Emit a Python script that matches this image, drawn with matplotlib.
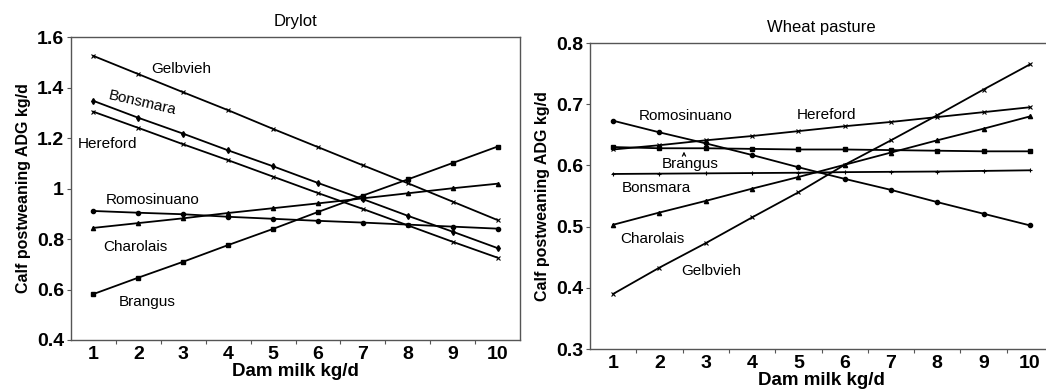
import matplotlib
matplotlib.use("Agg")
import matplotlib.pyplot as plt
from matplotlib.ticker import FormatStrFormatter

plt.rcParams['font.family'] = ['Liberation Sans', 'DejaVu Sans']

milk = [1, 2, 3, 4, 5, 6, 7, 8, 9, 10]

# Drylot
dry_gelbvieh = [1.525, 1.453, 1.381, 1.310, 1.236, 1.164, 1.092, 1.021, 0.948, 0.875]
dry_bonsmara = [1.347, 1.280, 1.217, 1.151, 1.088, 1.022, 0.958, 0.892, 0.829, 0.764]
dry_hereford = [1.304, 1.240, 1.175, 1.112, 1.047, 0.982, 0.919, 0.854, 0.789, 0.726]
dry_romosinuano = [0.911, 0.904, 0.898, 0.888, 0.880, 0.872, 0.865, 0.857, 0.849, 0.841]
dry_charolais = [0.844, 0.863, 0.882, 0.903, 0.922, 0.941, 0.961, 0.981, 1.001, 1.019]
dry_brangus = [0.582, 0.647, 0.710, 0.776, 0.840, 0.907, 0.972, 1.036, 1.101, 1.166]

# Wheat pasture
wp_gelbvieh = [0.390, 0.433, 0.473, 0.515, 0.556, 0.601, 0.641, 0.682, 0.724, 0.765]
wp_hereford = [0.626, 0.633, 0.641, 0.648, 0.656, 0.664, 0.671, 0.679, 0.687, 0.695]
wp_romosinuano = [0.673, 0.654, 0.636, 0.617, 0.597, 0.578, 0.560, 0.540, 0.521, 0.502]
wp_brangus = [0.630, 0.628, 0.628, 0.627, 0.626, 0.626, 0.625, 0.624, 0.623, 0.623]
wp_bonsmara = [0.586, 0.5865, 0.587, 0.5875, 0.588, 0.589, 0.5895, 0.590, 0.591, 0.592]
wp_charolais = [0.503, 0.523, 0.542, 0.562, 0.581, 0.601, 0.621, 0.641, 0.660, 0.680]

W, H = 1046, 391
fig = plt.figure(figsize=(W / 100, H / 100), dpi=100)

def px_axes(x0, x1, ytop, ybot):
    return fig.add_axes([x0 / W, (H - ybot) / H, (x1 - x0) / W, (ybot - ytop) / H])

ax1 = px_axes(71, 520, 37, 340)
ax2 = px_axes(590, 1053, 43, 349)

lw = 1.3
ms = 3

def style(ax, ylim, yticks):
    ax.set_xlim(0.5, 10.5)
    ax.set_ylim(*ylim)
    ax.set_yticks(yticks)
    ax.yaxis.set_major_formatter(FormatStrFormatter('%g'))
    ax.set_xticks(milk)
    ax.set_xticks([i + 0.5 for i in milk[:-1]], minor=True)
    ax.tick_params(axis='x', which='major', length=0, pad=4)
    ax.tick_params(axis='x', which='minor', length=3, width=0.8, color='#555555')
    ax.tick_params(axis='y', length=3, width=0.8, color='#555555', pad=2)
    for lab in ax.get_xticklabels() + ax.get_yticklabels():
        lab.set_fontweight('bold')
        lab.set_fontsize(14)
    for s in ax.spines.values():
        s.set_color('#555555')
        s.set_linewidth(1.0)
    ax.set_xlabel('Dam milk kg/d', fontsize=13.5, fontweight='bold', labelpad=0)
    ax.set_ylabel('Calf postweaning ADG kg/d', fontsize=11.5, fontweight='bold', labelpad=4)

# Drylot
ax1.plot(milk, dry_gelbvieh, color='black', lw=lw, marker='x', ms=ms, mew=0.8)
ax1.plot(milk, dry_bonsmara, color='black', lw=lw, marker='d', ms=ms)
ax1.plot(milk, dry_hereford, color='black', lw=lw, marker='x', ms=ms, mew=0.8)
ax1.plot(milk, dry_romosinuano, color='black', lw=lw, marker='o', ms=ms)
ax1.plot(milk, dry_charolais, color='black', lw=lw, marker='^', ms=ms)
ax1.plot(milk, dry_brangus, color='black', lw=lw, marker='s', ms=ms)
style(ax1, (0.4, 1.6), [0.4, 0.6, 0.8, 1.0, 1.2, 1.4, 1.6])
ax1.set_title('Drylot', fontsize=12, pad=8)

lab_kw = dict(fontsize=11, ha='center', va='center')
ax1.text(2.96, 1.473, 'Gelbvieh', **lab_kw)
ax1.text(2.09, 1.339, 'Bonsmara', rotation=-13, **lab_kw)
ax1.text(1.31, 1.176, 'Hereford', **lab_kw)
ax1.text(2.31, 0.955, 'Romosinuano', **lab_kw)
ax1.text(1.94, 0.768, 'Charolais', **lab_kw)
ax1.text(2.2, 0.55, 'Brangus', **lab_kw)

# Wheat pasture
ax2.plot(milk, wp_gelbvieh, color='black', lw=lw, marker='x', ms=ms, mew=0.8)
ax2.plot(milk, wp_hereford, color='black', lw=lw, marker='x', ms=ms, mew=0.8)
ax2.plot(milk, wp_romosinuano, color='black', lw=lw, marker='o', ms=ms)
ax2.plot(milk, wp_brangus, color='black', lw=lw, marker='s', ms=ms)
ax2.plot(milk, wp_bonsmara, color='black', lw=lw, marker='+', ms=ms, mew=0.8)
ax2.plot(milk, wp_charolais, color='black', lw=lw, marker='^', ms=ms)
style(ax2, (0.3, 0.8), [0.3, 0.4, 0.5, 0.6, 0.7, 0.8])
ax2.set_title('Wheat pasture', fontsize=12, pad=8)

ax2.text(2.57, 0.680, 'Romosinuano', **lab_kw)
ax2.text(5.6, 0.683, 'Hereford', **lab_kw)
ax2.text(2.66, 0.603, 'Brangus', **lab_kw)
ax2.annotate('', xy=(2.53, 0.627), xytext=(2.53, 0.612),
             arrowprops=dict(arrowstyle='->', color='black', lw=0.8, mutation_scale=6))
ax2.text(1.94, 0.563, 'Bonsmara', **lab_kw)
ax2.text(1.84, 0.480, 'Charolais', **lab_kw)
ax2.text(3.11, 0.428, 'Gelbvieh', **lab_kw)

fig.savefig('out.png', dpi=100)
